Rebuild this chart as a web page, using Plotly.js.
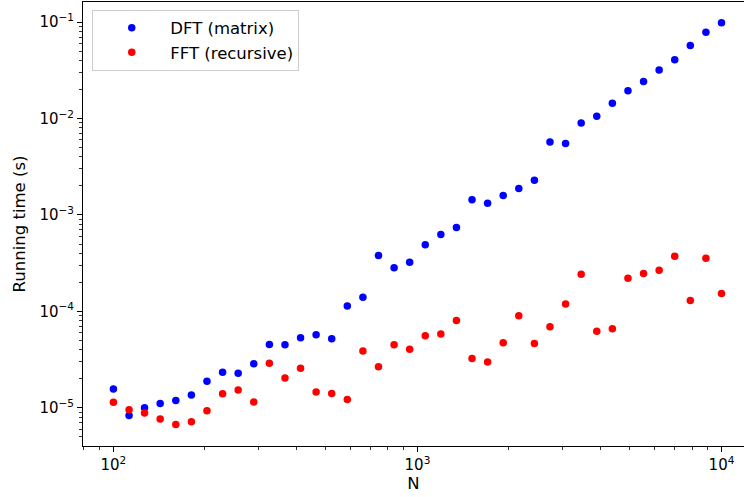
<!DOCTYPE html>
<html>
<head>
<meta charset="utf-8">
<script src="https://cdn.plot.ly/plotly-3.0.1.min.js"></script>
<style>html,body{margin:0;padding:0;background:#fff;}#chart{width:744px;height:497px;}</style>
</head>
<body>
<div id="chart"></div>
<script>
const N = [100, 112.6, 126.6, 142.5, 160.4, 180.5, 203.1, 228.6, 257.2, 289.5,
  325.8, 366.7, 412.6, 464.2, 522.4, 587.9, 661.6, 744.5, 837.8, 942.7,
  1060.8, 1193.8, 1343.3, 1511.7, 1701.1, 1914.3, 2154.4, 2424.5, 2728.3, 3070.3,
  3455.1, 3888.1, 4375.3, 4923.9, 5541.0, 6235.5, 7017.0, 7896.5, 8886.2, 10000];

const dftTime = [1.57e-5, 8.3e-6, 1.0e-5, 1.11e-5, 1.19e-5, 1.36e-5, 1.89e-5, 2.34e-5, 2.28e-5, 2.87e-5,
  4.55e-5, 4.51e-5, 5.33e-5, 5.73e-5, 5.20e-5, 1.14e-4, 1.40e-4, 3.81e-4, 2.84e-4, 3.23e-4,
  4.92e-4, 6.28e-4, 7.43e-4, 1.44e-3, 1.32e-3, 1.59e-3, 1.88e-3, 2.29e-3, 5.70e-3, 5.52e-3,
  8.97e-3, 1.06e-2, 1.44e-2, 1.94e-2, 2.42e-2, 3.19e-2, 4.08e-2, 5.74e-2, 7.88e-2, 9.84e-2];

const fftTime = [1.14e-5, 9.53e-6, 8.81e-6, 7.64e-6, 6.73e-6, 7.16e-6, 9.31e-6, 1.40e-5, 1.53e-5, 1.15e-5,
  2.90e-5, 2.04e-5, 2.57e-5, 1.46e-5, 1.41e-5, 1.22e-5, 3.88e-5, 2.67e-5, 4.51e-5, 4.04e-5,
  5.58e-5, 5.82e-5, 8.05e-5, 3.24e-5, 2.99e-5, 4.73e-5, 9.00e-5, 4.66e-5, 6.92e-5, 1.19e-4,
  2.43e-4, 6.21e-5, 6.61e-5, 2.21e-4, 2.47e-4, 2.67e-4, 3.73e-4, 1.30e-4, 3.55e-4, 1.53e-4];

const seriesNames = ["DFT (matrix)", "FFT (recursive)"];
const xTickVals = [100, 1000, 10000];
const xTickText = ["10<sup>2</sup>", "10<sup>3</sup>", "10<sup>4</sup>"];
const yTickVals = [1e-5, 1e-4, 1e-3, 1e-2, 1e-1];
const yTickText = ["10<sup>\u22125</sup>", "10<sup>\u22124</sup>", "10<sup>\u22123</sup>", "10<sup>\u22122</sup>", "10<sup>\u22121</sup>"];

function minorVals(lo, hi) {
  const out = [];
  for (let e = lo; e <= hi; e++) {
    for (let m = 2; m <= 9; m++) out.push(m * Math.pow(10, e));
  }
  return out;
}

const font = "DejaVu Sans, sans-serif";

const traces = [
  {x: N, y: dftTime, mode: "markers", type: "scatter", name: seriesNames[0],
   marker: {color: "#0000ff", size: 7.5}},
  {x: N, y: fftTime, mode: "markers", type: "scatter", name: seriesNames[1],
   marker: {color: "#ff0000", size: 7.5}}
];

const layout = {
  width: 744, height: 497,
  margin: {l: 83, r: 0, t: 2, b: 51},
  paper_bgcolor: "#fff", plot_bgcolor: "#fff",
  font: {family: font, color: "#000", size: 15},
  showlegend: true,
  legend: {
    x: 0.014, y: 0.983, xanchor: "left", yanchor: "top",
    bgcolor: "rgba(255,255,255,0.8)", bordercolor: "#cccccc", borderwidth: 1,
    font: {family: font, size: 16.5, color: "#000"},
    itemwidth: 67, tracegroupgap: 0
  },
  xaxis: {
    type: "log", range: [1.9, 4.074],
    showgrid: false, zeroline: false,
    showline: true, linecolor: "#000", linewidth: 1, mirror: true,
    ticks: "outside", ticklen: 5, tickwidth: 1, tickcolor: "#000",
    tickmode: "array", tickvals: xTickVals, ticktext: xTickText,
    tickfont: {family: font, size: 15, color: "#000"},
    minor: {ticks: "outside", ticklen: 3, tickwidth: 0.8, tickcolor: "#000", tickmode: "array", tickvals: minorVals(1, 4), showgrid: false},
    title: {text: "N", font: {family: font, size: 16.5, color: "#000"}, standoff: 4}
  },
  yaxis: {
    type: "log", range: [-5.396, -0.791],
    showgrid: false, zeroline: false,
    showline: true, linecolor: "#000", linewidth: 1, mirror: true,
    ticks: "outside", ticklen: 5, tickwidth: 1, tickcolor: "#000",
    tickmode: "array", tickvals: yTickVals, ticktext: yTickText,
    tickfont: {family: font, size: 15, color: "#000"},
    minor: {ticks: "outside", ticklen: 3, tickwidth: 0.8, tickcolor: "#000", tickmode: "array", tickvals: minorVals(-6, -1), showgrid: false},
    title: {text: "Running time (s)", font: {family: font, size: 16.5, color: "#000"}, standoff: 9}
  }
};

Plotly.newPlot("chart", traces, layout, {displayModeBar: false, staticPlot: true});
</script>
</body>
</html>
